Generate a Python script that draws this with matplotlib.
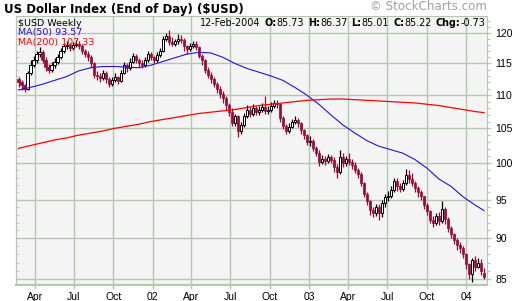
import numpy as np
import pandas as pd
import matplotlib
matplotlib.use("Agg")
import matplotlib.pyplot as plt
from matplotlib.ticker import FixedLocator, NullFormatter, StrMethodFormatter

# weekly candles of the US dollar index (Feb 2001 - Feb 2004)
closes = [112.0, 111.5, 111.0, 113.5, 114.8, 115.5, 116.5, 116.8, 115.5, 114.5,
          114.0, 114.8, 115.2, 116.0, 117.0, 117.8, 118.0, 117.5, 118.0, 118.2,
          117.8, 117.0, 116.5, 116.0, 115.0, 113.2, 113.0, 112.7, 113.5, 112.5,
          111.7, 112.3, 112.8, 112.2, 113.5, 114.8, 114.2, 115.2, 116.2, 115.5,
          115.0, 114.8, 115.6, 116.5, 116.0, 115.5, 116.3, 117.0, 119.0, 119.5,
          118.5, 118.2, 118.6, 119.0, 118.8, 117.8, 117.3, 117.9, 118.2, 117.6,
          116.2, 115.5, 114.0, 113.2, 112.5, 111.8, 111.0, 110.2, 109.5, 108.5,
          107.5, 105.8, 106.8, 104.6, 105.5, 106.8, 107.8, 107.2, 108.0, 107.5,
          107.8, 108.2, 107.6, 107.8, 108.4, 108.8, 108.6, 106.5, 105.3, 104.6,
          105.2, 106.0, 106.3, 105.8, 104.7, 104.0, 103.0, 103.2, 102.2, 101.5,
          100.2, 100.6, 100.3, 100.8, 100.5, 99.5, 98.8, 100.8, 100.0, 100.6,
          100.2, 99.8, 99.0, 98.5, 97.2, 95.8, 94.8, 93.6, 93.3, 94.0,
          93.2, 94.5, 95.3, 95.5, 96.3, 97.5, 96.8, 96.5, 97.2, 98.3,
          97.8, 97.2, 96.6, 96.0, 95.5, 94.3, 93.5, 92.4, 92.0, 92.8,
          92.2, 93.8, 92.5, 91.3, 90.5, 89.8, 89.2, 88.8, 88.0, 86.8,
          85.6, 87.3, 86.5, 87.0, 85.95, 85.22]

highs = [112.8, 112.3, 111.8, 113.8, 115.5, 116.2, 117.0, 117.6, 117.2, 116.0,
         114.9, 115.3, 115.8, 116.5, 117.5, 118.3, 118.6, 118.4, 118.5, 118.8,
         118.6, 118.1, 117.4, 117.0, 116.3, 115.3, 113.8, 113.5, 114.0, 113.8,
         112.8, 112.9, 113.4, 113.0, 114.0, 115.2, 115.0, 115.8, 116.7, 116.5,
         115.9, 115.5, 116.0, 117.0, 116.9, 116.2, 116.8, 117.5, 119.5, 120.0,
         120.5, 119.3, 119.0, 119.8, 119.6, 119.2, 118.0, 118.4, 118.7, 118.6,
         117.8, 116.5, 115.7, 114.4, 113.6, 112.9, 112.1, 111.4, 110.6, 109.8,
         108.8, 108.0, 107.2, 107.0, 106.0, 107.3, 108.5, 108.2, 108.6, 108.4,
         108.3, 108.8, 109.8, 108.4, 108.9, 109.3, 109.2, 108.8, 106.8, 105.6,
         105.8, 106.4, 106.9, 106.5, 106.0, 104.9, 104.2, 103.9, 103.4, 102.4,
         101.8, 101.1, 101.0, 101.3, 101.2, 100.8, 99.9, 101.8, 101.4, 101.0,
         101.5, 100.6, 100.1, 99.3, 98.7, 97.4, 96.1, 94.9, 94.0, 94.4,
         94.4, 95.0, 95.8, 96.2, 96.8, 98.0, 97.9, 97.2, 97.6, 99.2,
         99.0, 98.6, 97.5, 96.8, 96.3, 95.5, 94.6, 93.7, 92.8, 93.2,
         93.4, 94.8, 94.0, 92.7, 91.6, 90.7, 90.0, 89.5, 89.0, 88.2,
         87.0, 87.6, 87.8, 87.6, 87.4, 86.37]

lows = [111.3, 110.8, 110.5, 110.8, 113.2, 114.5, 115.0, 116.0, 115.0, 113.8,
        113.5, 113.6, 114.3, 114.9, 115.7, 116.7, 117.3, 117.0, 117.1, 117.6,
        117.3, 116.6, 116.0, 115.4, 114.5, 112.6, 112.4, 112.0, 112.3, 111.9,
        111.3, 111.4, 112.0, 111.7, 112.0, 113.3, 113.6, 114.0, 115.0, 115.0,
        114.5, 114.2, 114.5, 115.3, 115.6, 115.0, 115.2, 116.0, 116.8, 118.6,
        118.0, 117.8, 117.8, 118.2, 118.3, 117.0, 116.6, 117.0, 117.5, 117.1,
        115.8, 114.8, 113.5, 112.7, 111.9, 111.2, 110.4, 109.6, 108.8, 107.8,
        106.8, 105.3, 105.4, 103.8, 104.2, 105.2, 106.5, 106.7, 106.9, 107.0,
        107.0, 107.4, 107.2, 107.2, 107.5, 108.0, 108.0, 105.9, 104.9, 104.1,
        104.3, 105.0, 105.7, 105.2, 104.2, 103.4, 102.6, 102.5, 101.7, 101.0,
        99.6, 99.9, 99.8, 100.0, 100.0, 98.8, 98.0, 98.5, 99.4, 99.6,
        99.7, 99.2, 98.6, 97.9, 96.8, 95.3, 94.3, 93.0, 92.7, 92.9,
        92.4, 92.7, 94.0, 94.8, 95.2, 96.0, 96.2, 96.0, 96.2, 97.0,
        97.3, 96.8, 96.1, 95.3, 94.9, 93.8, 93.0, 91.9, 91.4, 91.7,
        91.7, 92.0, 91.8, 90.8, 90.0, 89.3, 88.6, 88.2, 87.5, 86.2,
        85.0, 84.6, 86.0, 86.3, 85.5, 85.01]

first_open = 112.5
last_open = 85.73

# moving averages, read every 4 weeks (week index into the candles)
ma_idx = [0, 4, 8, 12, 16, 20, 24, 28, 32, 36, 40, 44, 48, 52, 56, 60, 64, 68,
          72, 76, 80, 84, 88, 92, 96, 100, 104, 108, 112, 116, 120, 124, 128,
          132, 136, 140, 144, 148, 152, 155]
ma50 = [110.8, 111.2, 111.7, 112.3, 112.9, 113.8, 114.3, 114.5, 114.5, 114.4,
        114.3, 114.7, 115.3, 115.9, 116.5, 116.8, 116.7, 116.0, 115.0, 114.2,
        113.6, 113.0, 112.3, 111.2, 110.0, 108.6, 107.0, 105.5, 104.3, 103.2,
        102.4, 101.9, 101.4, 100.5, 99.3, 97.8, 96.8, 95.4, 94.3, 93.57]
ma200 = [102.1, 102.5, 102.9, 103.3, 103.6, 104.0, 104.3, 104.6, 105.0, 105.3,
         105.6, 106.0, 106.3, 106.6, 106.9, 107.2, 107.4, 107.6, 107.8, 108.1,
         108.4, 108.6, 108.8, 109.0, 109.2, 109.3, 109.4, 109.4, 109.3, 109.2,
         109.1, 109.0, 108.9, 108.8, 108.6, 108.4, 108.1, 107.8, 107.5, 107.33]

yticks = [85, 90, 95, 100, 105, 110, 115, 120]
xtick_dates = ["2001-04-01", "2001-07-01", "2001-10-01", "2002-01-01",
               "2002-04-01", "2002-07-01", "2002-10-01", "2003-01-01",
               "2003-04-01", "2003-07-01", "2003-10-01", "2004-01-01"]
xtick_labels = ["Apr", "Jul", "Oct", "02", "Apr", "Jul", "Oct", "03",
                "Apr", "Jul", "Oct", "04"]

closes = np.array(closes)
highs = np.array(highs)
lows = np.array(lows)
opens = np.concatenate([[first_open], closes[:-1]])
opens[-1] = last_open
dates = pd.date_range(end="2004-02-12", periods=len(closes), freq="7D")
ma_dates = dates[ma_idx]

grid_c = "#b4c8ae"
down_c = "#990a3a"
W, H = 520, 301

fig = plt.figure(figsize=(W / 100, H / 100), dpi=100)
fig.patch.set_facecolor("white")
ax = fig.add_axes([16 / W, 16 / H, 471 / W, 269 / H])
ax.set_facecolor("#f4f4f4")
ax.set_axisbelow(True)
ax.set_yscale("log")

up = closes >= opens
dn = ~up
ax.vlines(dates[up], lows[up], highs[up], colors="black", linewidth=0.9, zorder=2)
ax.vlines(dates[dn], lows[dn], highs[dn], colors=down_c, linewidth=0.9, zorder=2)
ax.bar(dates[up], closes[up] - opens[up], bottom=opens[up], width=5.2,
       facecolor="white", edgecolor="black", linewidth=0.7, zorder=3)
ax.bar(dates[dn], opens[dn] - closes[dn], bottom=closes[dn], width=5.2,
       facecolor=down_c, edgecolor=down_c, linewidth=0.5, zorder=3)

ax.plot(ma_dates, ma50, color="#2a10d8", linewidth=0.8, zorder=4)
ax.plot(ma_dates, ma200, color="#ff0000", linewidth=0.9, zorder=4)

ax.set_xlim(pd.Timestamp("2001-02-16"), pd.Timestamp("2004-02-19"))
ax.set_ylim(84.3, 122.9)

ax.set_xticks(pd.to_datetime(xtick_dates))
ax.set_xticklabels(xtick_labels)
ax.yaxis.set_major_locator(FixedLocator(yticks))
ax.yaxis.set_major_formatter(StrMethodFormatter("{x:.0f}"))
ax.yaxis.set_minor_locator(FixedLocator(range(84, 123)))
ax.yaxis.set_minor_formatter(NullFormatter())
ax.yaxis.tick_right()
ax.grid(True, which="major", color=grid_c, linewidth=1.0)

ax.tick_params(axis="x", length=3, width=1, color=grid_c, pad=2)
ax.tick_params(axis="y", which="major", length=3, width=1, color=grid_c, pad=3)
ax.tick_params(axis="y", which="minor", length=2, width=0.8, color=grid_c)
for lab in ax.get_xticklabels() + ax.get_yticklabels():
    lab.set_fontfamily("Liberation Sans")
    lab.set_fontsize(7.5)

# short inward ticks along the left edge
sec = ax.secondary_yaxis("left")
sec.yaxis.set_major_locator(FixedLocator(yticks))
sec.yaxis.set_minor_locator(FixedLocator(range(84, 123)))
sec.yaxis.set_major_formatter(NullFormatter())
sec.yaxis.set_minor_formatter(NullFormatter())
sec.tick_params(which="both", direction="in", length=2, color=grid_c)
sec.spines["left"].set_color(grid_c)

for s in ax.spines.values():
    s.set_color(grid_c)
ax.spines["bottom"].set_linewidth(1.6)

# titles and annotations
fig.text(4 / W, 1 - 12.5 / H, "US Dollar Index (End of Day) ($USD)",
         fontsize=8.5, fontweight="bold", va="baseline", family="DejaVu Sans")
fig.text(487 / W, 1 - 10.5 / H, "\u00a9 StockCharts.com", fontsize=8.6,
         color="#a0a0a0", ha="right", va="baseline", family="DejaVu Sans")

fig.text(18 / W, 1 - 25.5 / H, "$USD Weekly", fontsize=6.8, va="baseline")
fig.text(18 / W, 1 - 34.5 / H, "MA(50) 93.57", fontsize=6.8, va="baseline",
         color="#2a10d8")
fig.text(18 / W, 1 - 44.5 / H, "MA(200) 107.33", fontsize=6.8, va="baseline",
         color="#ff0000")

pieces = [("12-Feb-2004", "normal", 0), ("O:", "bold", 4), ("85.73", "normal", 0),
          ("H:", "bold", 4), ("86.37", "normal", 0), ("L:", "bold", 4),
          ("85.01", "normal", 0), ("C:", "bold", 4), ("85.22", "normal", 0),
          ("Chg:", "bold", 4), ("-0.73", "normal", 0)]
prev = fig.text(200 / W, 1 - 25.5 / H, pieces[0][0], fontsize=6.9, va="baseline")
for txt, wt, gap in pieces[1:]:
    prev = ax.annotate(txt, xy=(1, 0), xycoords=prev, xytext=(gap, 0),
                       textcoords="offset pixels", fontsize=6.9, fontweight=wt,
                       va="bottom", ha="left", annotation_clip=False)

fig.savefig("out.png", dpi=100)
